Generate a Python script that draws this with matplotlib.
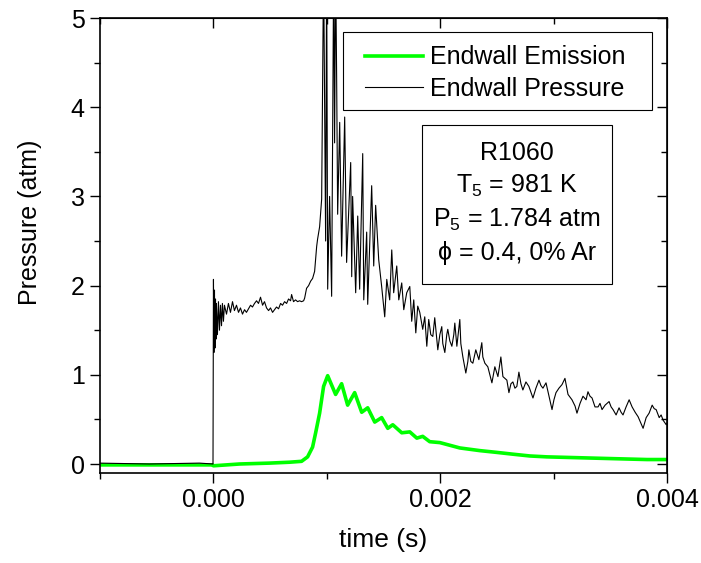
import matplotlib
matplotlib.use('Agg')
import matplotlib.pyplot as plt
from matplotlib.patches import Rectangle
import numpy as np

plt.rcParams['font.family'] = ['Liberation Sans', 'DejaVu Sans']
plt.rcParams['mathtext.fontset'] = 'custom'
plt.rcParams['mathtext.rm'] = 'Liberation Sans'
plt.rcParams['mathtext.default'] = 'regular'

# endwall pressure trace, time in microseconds, pressure in atm
t_press_us = [-1010, -565, -124, -4, 0, 4, 9, 13, 18, 22, 26, 35, 44, 53, 62, 71, 79, 88, 97,
              115, 132, 150, 168, 185, 203, 221, 238, 256, 274, 291, 309, 327, 344, 362, 380,
              397, 415, 433, 450, 468, 486, 503, 521, 539, 556, 574, 592, 609, 627, 645, 662,
              680, 689, 706, 724, 742, 759, 777, 795, 804, 821, 839, 857, 874, 892, 910, 918,
              936, 954, 971, 989, 998, 1007, 1024, 1042, 1060, 1068, 1077, 1086, 1095, 1113,
              1130, 1157, 1174, 1210, 1219, 1227, 1254, 1272, 1289, 1316, 1325, 1351, 1360,
              1395, 1413, 1430, 1457, 1483, 1510, 1528, 1554, 1572, 1589, 1616, 1634, 1660,
              1678, 1704, 1731, 1748, 1766, 1784, 1801, 1819, 1845, 1863, 1881, 1898, 1916,
              1934, 1951, 1969, 1978, 1996, 2013, 2022, 2040, 2057, 2066, 2084, 2102, 2119,
              2128, 2146, 2172, 2181, 2199, 2225, 2243, 2252, 2269, 2287, 2313, 2340, 2366,
              2375, 2393, 2419, 2437, 2455, 2481, 2508, 2534, 2552, 2587, 2605, 2623, 2640,
              2658, 2675, 2693, 2711, 2728, 2755, 2781, 2817, 2843, 2870, 2887, 2905, 2932,
              2958, 2985, 3002, 3020, 3046, 3073, 3099, 3126, 3161, 3188, 3205, 3232, 3258,
              3285, 3302, 3320, 3338, 3364, 3391, 3408, 3426, 3453, 3488, 3506, 3523, 3550,
              3576, 3594, 3611, 3638, 3665, 3691, 3718, 3744, 3771, 3788, 3815, 3841, 3868,
              3886, 3903, 3930, 3947, 3965, 3992, 4000]
p_press = [0.01, 0.0, 0.01, 0.0, 2.07, 1.25, 1.95, 1.3, 1.85, 1.4, 1.8, 1.45, 1.82, 1.5, 1.78,
           1.55, 1.8, 1.6, 1.78, 1.68, 1.8, 1.7, 1.82, 1.72, 1.78, 1.7, 1.75, 1.68, 1.73, 1.7,
           1.74, 1.78, 1.76, 1.8, 1.83, 1.8, 1.87, 1.78, 1.82, 1.75, 1.72, 1.75, 1.70, 1.73,
           1.76, 1.74, 1.8, 1.78, 1.82, 1.8, 1.85, 1.83, 1.9, 1.82, 1.84, 1.82, 1.83, 1.82,
           1.83, 1.86, 1.97, 2.0, 2.05, 2.08, 2.16, 2.44, 2.52, 2.66, 2.97, 5.6, 2.5, 5.6,
           1.96, 3.0, 1.88, 5.6, 3.6, 5.6, 4.35, 2.8, 3.83, 2.33, 3.89, 2.26, 3.38, 2.1, 3.0,
           1.92, 2.78, 1.96, 3.48, 1.84, 2.6, 1.79, 3.12, 2.22, 2.9, 2.29, 1.99, 1.65, 2.07,
           1.84, 2.4, 1.92, 2.22, 1.84, 2.03, 1.73, 1.92, 1.99, 1.6, 1.84, 1.47, 1.77, 1.7,
           1.51, 1.65, 1.32, 1.62, 1.45, 1.43, 1.64, 1.4, 1.28, 1.45, 1.54, 1.35, 1.25, 1.45,
           1.51, 1.38, 1.32, 1.45, 1.58, 1.32, 1.62, 1.35, 1.2, 1.02, 1.15, 1.28, 1.15, 1.13,
           1.28, 1.17, 1.36, 1.2, 1.13, 1.09, 1.0, 0.91, 1.09, 0.98, 1.2, 0.98, 0.94, 0.8,
           0.9, 0.92, 0.85, 0.87, 1.03, 0.9, 0.83, 0.92, 0.87, 0.74, 0.85, 0.94, 0.88, 0.85,
           0.91, 0.76, 0.61, 0.72, 0.8, 0.85, 0.89, 0.96, 0.78, 0.72, 0.65, 0.57, 0.68, 0.76,
           0.72, 0.81, 0.76, 0.74, 0.64, 0.64, 0.68, 0.61, 0.66, 0.70, 0.64, 0.61, 0.55, 0.63,
           0.58, 0.55, 0.64, 0.72, 0.64, 0.58, 0.53, 0.45, 0.40, 0.52, 0.57, 0.66, 0.62, 0.61,
           0.52, 0.55, 0.49, 0.44, 0.46]

# endwall emission (normalised)
t_emis_us = [-1010, -565, -9, 0, 230, 494, 671, 777, 830, 874, 901, 936, 971, 1007, 1077, 1130,
             1183, 1245, 1307, 1360, 1422, 1483, 1537, 1581, 1660, 1731, 1793, 1845, 1907, 1996,
             2084, 2172, 2349, 2499, 2640, 2790, 2940, 3232, 3523, 3823, 4000]
emis = [-0.01, -0.01, -0.01, -0.02, 0.0, 0.01, 0.02, 0.03, 0.08, 0.19, 0.35, 0.57, 0.87, 0.99,
        0.78, 0.9, 0.66, 0.80, 0.58, 0.63, 0.47, 0.52, 0.40, 0.44, 0.35, 0.36, 0.29, 0.31, 0.25,
        0.24, 0.21, 0.18, 0.15, 0.13, 0.11, 0.09, 0.08, 0.07, 0.06, 0.05, 0.05]

info_lines = ['R1060', 'T$_5$ = 981 K', 'P$_5$ = 1.784 atm', '\u03d5 = 0.4, 0% Ar']

t_press = np.array(t_press_us) * 1e-6
t_emis = np.array(t_emis_us) * 1e-6

fig = plt.figure(figsize=(7.01, 5.63), dpi=100)
ax = fig.add_axes([0.1427, 0.160, 0.809, 0.808])

ax.plot(t_emis, emis, color='#00ff00', lw=2.6, label='Endwall Emission', zorder=2)
ax.plot(t_press, p_press, color='black', lw=0.8, label='Endwall Pressure', zorder=3)

ax.set_xlim(-0.001, 0.004)
ax.set_ylim(-0.1, 5)
ax.set_xticks([0.0, 0.002, 0.004])
ax.set_xticklabels(['0.000', '0.002', '0.004'])
ax.set_xticks([-0.001, 0.001, 0.003], minor=True)
ax.set_yticks([0, 1, 2, 3, 4, 5])
ax.set_yticks([0.5, 1.5, 2.5, 3.5, 4.5], minor=True)
ax.tick_params(which='major', direction='out', length=7, width=1, labelsize=18, pad=4)
ax.tick_params(which='minor', direction='out', length=4, width=1)
for s in ax.spines.values():
    s.set_linewidth(1.2)

# inward ticks on top and right, no labels
sx = ax.secondary_xaxis('top')
sx.set_xticks([0.0, 0.002, 0.004])
sx.set_xticks([-0.001, 0.001, 0.003], minor=True)
sx.tick_params(which='both', direction='in', labeltop=False, width=1)
sx.tick_params(which='major', length=7)
sx.tick_params(which='minor', length=4)
sy = ax.secondary_yaxis('right')
sy.set_yticks([0, 1, 2, 3, 4, 5])
sy.set_yticks([0.5, 1.5, 2.5, 3.5, 4.5], minor=True)
sy.tick_params(which='both', direction='in', labelright=False, width=1)
sy.tick_params(which='major', length=7)
sy.tick_params(which='minor', length=4)

ax.set_xlabel('time (s)', fontsize=19)
ax.xaxis.set_label_coords(0.5, -0.121)
ax.set_ylabel('Pressure (atm)', fontsize=18)
ax.yaxis.set_label_coords(-0.102, 0.552)

# legend: frame drawn separately so the padding matches
ax.add_patch(Rectangle((0.4286, 0.7978), 0.545, 0.1714, transform=ax.transAxes,
                       facecolor='white', edgecolor='black', lw=0.8, zorder=4))
leg = ax.legend(loc='upper left', bbox_to_anchor=(0.4674, 0.94), fontsize=18,
                frameon=False, handlelength=2.3, handletextpad=0.3, labelspacing=0.3,
                borderpad=0, borderaxespad=0)
leg.set_zorder(5)

# run conditions box
ax.add_patch(Rectangle((0.5679, 0.4154), 0.3351, 0.3495, transform=ax.transAxes,
                       facecolor='white', edgecolor='black', lw=0.8, zorder=4))
ax.text(0.7354, 0.5934, '\n'.join(info_lines), transform=ax.transAxes, fontsize=18,
        ha='center', va='center', multialignment='center', linespacing=1.4, zorder=5)

fig.savefig('out.png', dpi=100)
